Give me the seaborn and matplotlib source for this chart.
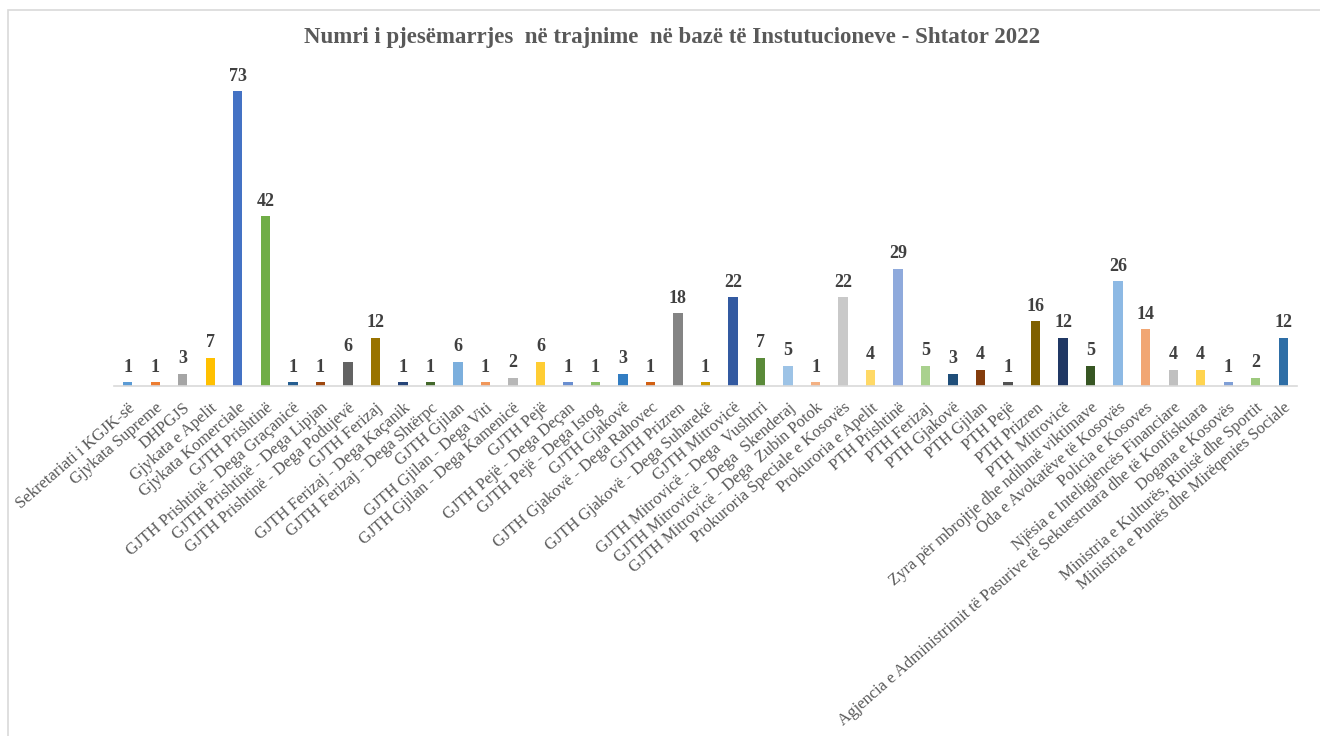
import pandas as pd
import numpy as np
import matplotlib
matplotlib.use('Agg')
import matplotlib.pyplot as plt
import seaborn as sns
from matplotlib.patches import Rectangle

institutions = [
    "Sekretariati i KGJK-së",
    "Gjykata Supreme",
    "DHPGJS",
    "Gjykata e Apelit",
    "Gjykata Komerciale",
    "GJTH Prishtinë",
    "GJTH Prishtinë - Dega Graçanicë",
    "GJTH Prishtinë - Dega Lipjan",
    "GJTH Prishtinë - Dega Podujevë",
    "GJTH Ferizaj",
    "GJTH Ferizaj - Dega Kaçanik",
    "GJTH Ferizaj - Dega Shtërpc",
    "GJTH Gjilan",
    "GJTH Gjilan - Dega Viti",
    "GJTH Gjilan - Dega Kamenicë",
    "GJTH Pejë",
    "GJTH Pejë - Dega Deçan",
    "GJTH Pejë - Dega Istog",
    "GJTH Gjakovë",
    "GJTH Gjakovë - Dega Rahovec",
    "GJTH Prizren",
    "GJTH Gjakovë - Dega Suharekë",
    "GJTH Mitrovicë",
    "GJTH Mitrovicë - Dega  Vushtrri",
    "GJTH Mitrovicë - Dega  Skenderaj",
    "GJTH Mitrovicë - Dega  Zubin Potok",
    "Prokuroria Speciale e Kosovës",
    "Prokuroria e Apelit",
    "PTH Prishtinë",
    "PTH Ferizaj",
    "PTH Gjakovë",
    "PTH Gjilan",
    "PTH Pejë",
    "PTH Prizren",
    "PTH  Mitrovicë",
    "Zyra për mbrojtje dhe ndihmë viktimave",
    "Oda e Avokatëve të Kosovës",
    "Policia e Kosoves",
    "Njësia e Inteligjencës Financiare",
    "Agjencia e Administrimit të Pasurive të Sekuestruara dhe të Konfiskuara",
    "Dogana e Kosovës",
    "Ministria e Kulturës, Rinisë dhe Sportit",
    "Ministria e Punës dhe Mirëqenies Sociale",
]

participants = [1, 1, 3, 7, 73, 42, 1, 1, 6, 12, 1, 1, 6, 1, 2, 6, 1, 1, 3, 1,
                18, 1, 22, 7, 5, 1, 22, 4, 29, 5, 3, 4, 1, 16, 12, 5, 26, 14,
                4, 4, 1, 2, 12]

bar_colors = [
    "#5B9BD5", "#ED7D31", "#A5A5A5", "#FFC000", "#4472C4", "#70AD47",
    "#255E91", "#9E480E", "#636363", "#997300", "#264478", "#43682B",
    "#7CAFDD", "#F1975A", "#B7B7B7", "#FFCD33", "#698ED0", "#8CC168",
    "#327DC2", "#D26012", "#848484", "#CC9A00", "#335AA1", "#5A8A39",
    "#9DC3E6", "#F4B183", "#C9C9C9", "#FFD966", "#8FAADC", "#A9D18E",
    "#1F4E79", "#843C0C", "#525252", "#7F6000", "#203864", "#375623",
    "#8DB9E4", "#F1A673", "#C0C0C0", "#FFD44F", "#7F9FD6", "#9DC97D",
    "#2E6EA6",
]

df = pd.DataFrame({'institution': institutions, 'count': participants})

sns.set_theme(style="white")
plt.rcParams['font.family'] = ['Liberation Serif', 'DejaVu Serif']

fig = plt.figure(figsize=(13.2, 7.36), dpi=100)
ax = fig.add_axes([114 / 1320, 1 - 386 / 736, (1297 - 114) / 1320, (386 - 63) / 736])

sns.barplot(data=df, x='institution', y='count', hue='institution',
            palette=bar_colors, legend=False, width=0.34, dodge=False,
            saturation=1, linewidth=0, ax=ax)

ax.set_ylim(0, 80)
ax.set_xlim(-0.5, len(institutions) - 0.5)
ax.set_xlabel('')
ax.set_ylabel('')
ax.set_yticks([])
for s in ['top', 'right', 'left']:
    ax.spines[s].set_visible(False)
ax.spines['bottom'].set_color('#D9D9D9')
ax.spines['bottom'].set_linewidth(1.2)
ax.tick_params(axis='x', length=0, pad=10)
ax.set_xticks(range(len(institutions)))
ax.set_xticklabels(institutions, rotation=41, ha='right', rotation_mode='anchor',
                   fontsize=12, color='#595959')

for i, v in enumerate(participants):
    ax.text(i, v + 1.6, str(v), ha='center', va='bottom', fontsize=13,
            fontweight='bold', color='#404040')

fig.text(672 / 1320, 1 - 38 / 736, "Numri i pjesëmarrjes  në trajnime  në bazë të Instutucioneve - Shtator 2022",
         ha='center', va='center', fontsize=16.5, fontweight='bold', color='#595959')

# chart frame
fig.patches.append(Rectangle((8 / 1320, -0.01), 1.02, 1 - 10 / 736 + 0.01,
                             transform=fig.transFigure, fill=False,
                             edgecolor='#D9D9D9', linewidth=1.2))

fig.savefig('out.png', dpi=100)
